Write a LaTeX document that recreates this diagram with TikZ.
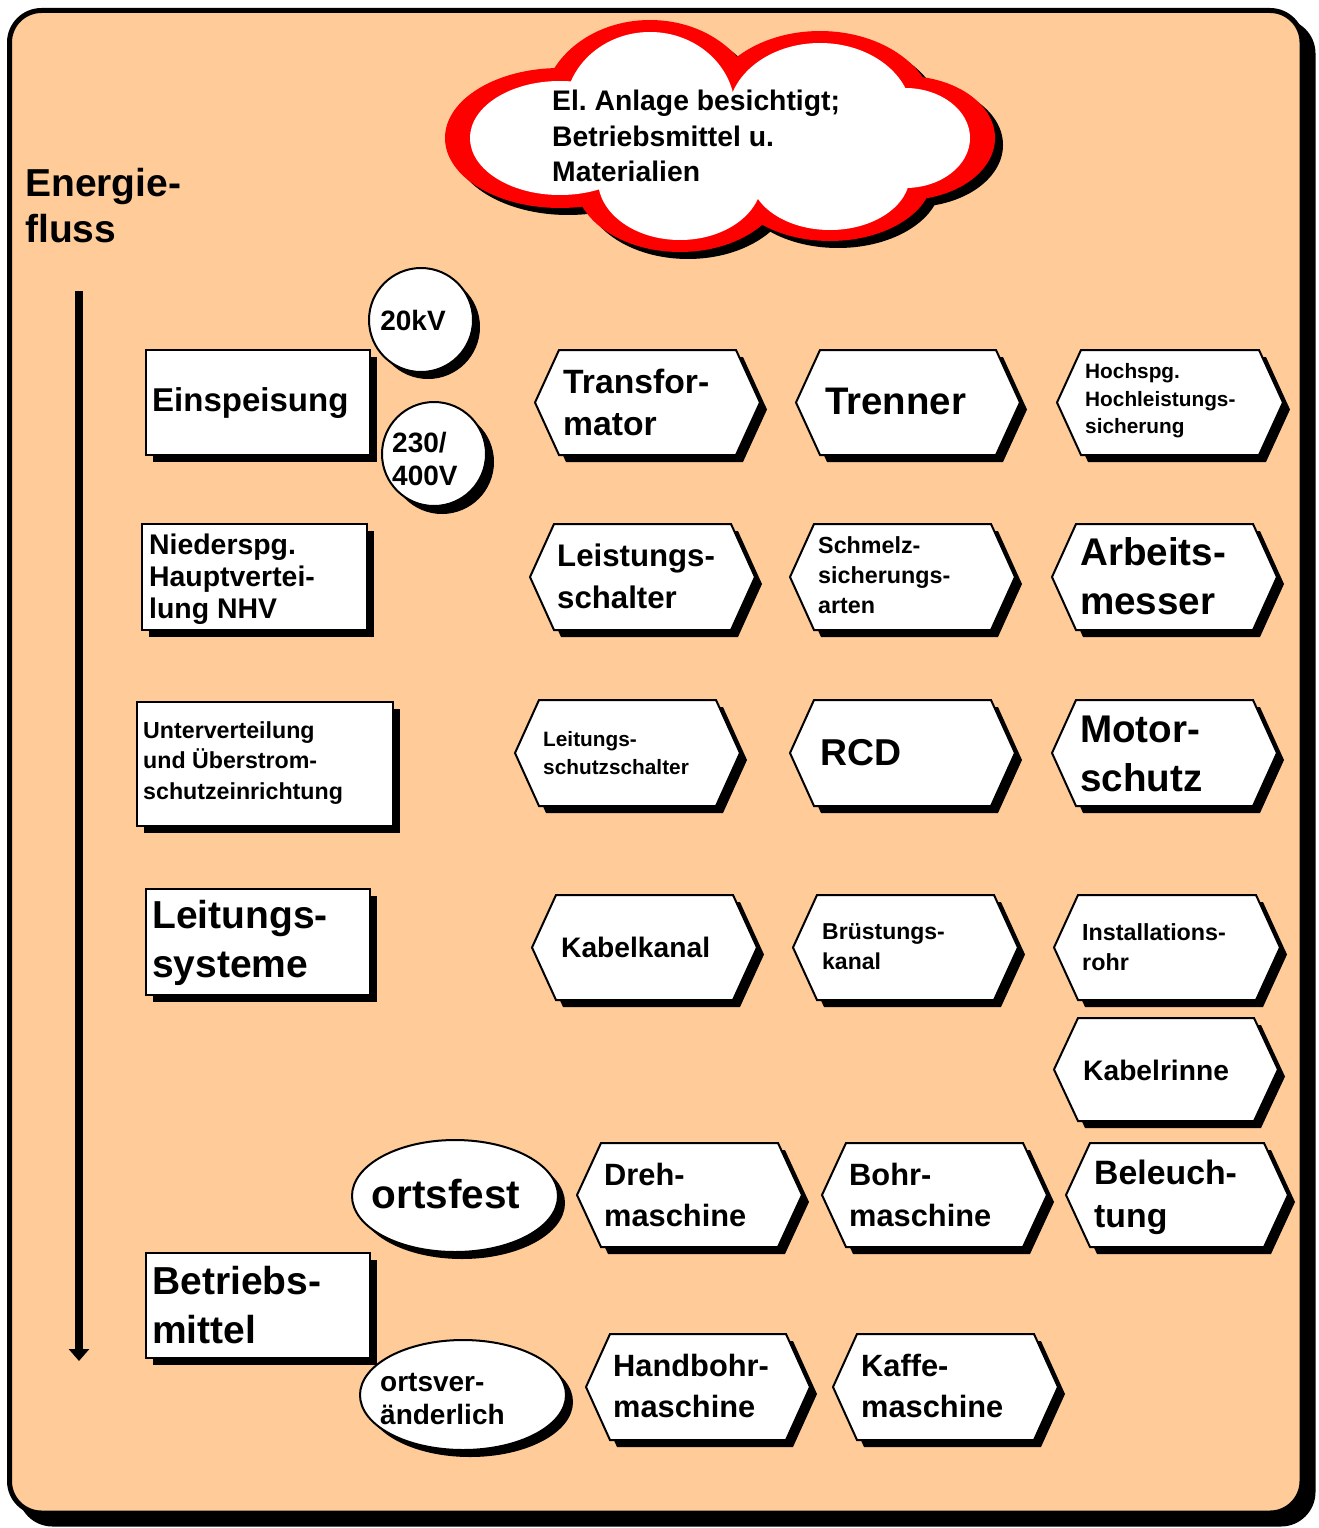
\documentclass[tikz,border=0pt]{standalone}
\usepackage{fontspec}
\setmainfont{Liberation Sans}
\usetikzlibrary{arrows.meta}
\definecolor{peach}{HTML}{FFCC99}
\frenchspacing
\newcommand\fs[2]{\fontsize{#1pt}{#2pt}\selectfont}
% rectangle with a drop shadow: x1 y1 x2 y2
\newcommand\shadowrect[4]{%
  \fill[black,shift={(7,7)}] (#1,#2) rectangle (#3,#4);
  \draw[outline] (#1,#2) rectangle (#3,#4);}
% pointed box (both ends) with a drop shadow: x1 x2 ytop ybot
\newcommand\hexshape[4]{%
  \pgfmathsetmacro\hm{(#3+#4)/2}%
  \pgfmathsetmacro\ha{#1+24}%
  \pgfmathsetmacro\hb{#2-24}%
  \fill[black,shift={(7,7)}] (#1,\hm) -- (\ha,#3) -- (\hb,#3) -- (#2,\hm) -- (\hb,#4) -- (\ha,#4) -- cycle;
  \draw[outline] (#1,\hm) -- (\ha,#3) -- (\hb,#3) -- (#2,\hm) -- (\hb,#4) -- (\ha,#4) -- cycle;}
\begin{document}
\begin{tikzpicture}[x=1pt,y=-1pt,
  outline/.style={draw=black,line width=2pt,fill=white,line join=miter},
  lbl/.style={inner sep=0pt,anchor=west,align=left},
  ctr/.style={inner sep=0pt,align=center}]
\useasboundingbox (0,0) rectangle (1318,1528);

% frame
\filldraw[black,line width=5pt,rounded corners=32pt] (20.5,21.5) rectangle (1313,1524);
\filldraw[fill=peach,draw=black,line width=5pt,rounded corners=32pt] (9.5,10.5) rectangle (1302,1513);

% cloud: shadow, red rim, white body
\begin{scope}[shift={(8,7)}]
  \fill[black] (560,138) ellipse[x radius=115pt,y radius=70pt];
  \fill[black] (650,110) ellipse[x radius=108pt,y radius=90pt];
  \fill[black] (820,115) ellipse[x radius=115pt,y radius=84pt];
  \fill[black] (905,138) ellipse[x radius=90pt,y radius=62pt];
  \fill[black] (830,175) ellipse[x radius=103pt,y radius=66pt];
  \fill[black] (680,180) ellipse[x radius=105pt,y radius=72pt];
\end{scope}
\fill[red] (560,138) ellipse[x radius=115pt,y radius=70pt];
\fill[red] (650,110) ellipse[x radius=108pt,y radius=90pt];
\fill[red] (820,115) ellipse[x radius=115pt,y radius=84pt];
\fill[red] (905,138) ellipse[x radius=90pt,y radius=62pt];
\fill[red] (830,175) ellipse[x radius=103pt,y radius=66pt];
\fill[red] (680,180) ellipse[x radius=105pt,y radius=72pt];
\fill[white] (560,138) ellipse[x radius=90pt,y radius=57pt];
\fill[white] (650,110) ellipse[x radius=85pt,y radius=78pt];
\fill[white] (820,115) ellipse[x radius=92pt,y radius=72pt];
\fill[white] (905,138) ellipse[x radius=65pt,y radius=50pt];
\fill[white] (830,175) ellipse[x radius=80pt,y radius=55pt];
\fill[white] (680,180) ellipse[x radius=82pt,y radius=60pt];
\node[lbl,font=\bfseries\fs{28.3}{35.5}] (cloudtext) at (552,136) {El. Anlage besichtigt;\\Betriebsmittel u.\\Materialien};

% energy flow
\node[lbl,font=\bfseries\fs{39}{46}] (flow) at (25,206) {Energie-\\fluss};
\coordinate (flowTop) at (79,291);
\coordinate (flowEnd) at (79,1361);
\draw[line width=8pt,-{Triangle[width=20pt,length=12pt]}] (flowTop) -- (flowEnd);

% left column
\shadowrect{146}{350}{370}{455}
\node[lbl,font=\bfseries\fs{33}{40}] (einsp) at (152,403) {Einspeisung};
\shadowrect{142}{524}{367}{630}
\node[lbl,font=\bfseries\fs{28.4}{32}] (nhv) at (149,579) {Niederspg.\\Hauptvertei-\\lung NHV};
\shadowrect{137}{702}{393}{826}
\node[lbl,font=\bfseries\fs{23.2}{30.5}] (uv) at (143,763) {Unterverteilung\\und Überstrom-\\schutzeinrichtung};
\shadowrect{146}{889}{370}{995}
\node[lbl,font=\bfseries\fs{39}{49}] (ltgsys) at (152,943) {Leitungs-\\systeme};
\shadowrect{146}{1253}{370}{1358}
\node[lbl,font=\bfseries\fs{39}{49}] (bm) at (152,1305) {Betriebs-\\mittel};

% voltage circles
\fill[black] (428,327) circle[radius=52pt];
\draw[outline] (421,320) circle[radius=52pt];
\node[ctr,font=\bfseries\fs{28}{33}] (kv) at (413,320) {20kV};
\fill[black] (442,462) circle[radius=52pt];
\draw[outline] (434,454) circle[radius=52pt];
\node[lbl,font=\bfseries\fs{28}{33}] (lv) at (392,459) {230/\\400V};

% mobility ellipses
\fill[black] (462,1203) ellipse[x radius=103pt,y radius=56pt];
\draw[outline] (455,1196) ellipse[x radius=103pt,y radius=56pt];
\node[ctr,font=\bfseries\fs{40.5}{46}] (fest) at (446,1194) {ortsfest};
\fill[black] (470,1402) ellipse[x radius=103pt,y radius=55pt];
\draw[outline] (463,1395) ellipse[x radius=103pt,y radius=55pt];
\node[lbl,font=\bfseries\fs{28}{33}] (mobil) at (380,1399) {ortsver-\\änderlich};

% row 1
\hexshape{535}{760}{350}{455}
\node[lbl,font=\bfseries\fs{33.7}{42}] (trafo) at (563,402) {Transfor-\\mator};
\hexshape{796}{1020}{350}{455}
\node[lbl,font=\bfseries\fs{38.4}{44}] (trenner) at (825,401) {Trenner};
\hexshape{1057}{1283}{350}{455}
\node[lbl,font=\bfseries\fs{20.8}{27.5}] (hh) at (1085,401) {Hochspg.\\Hochleistungs-\\sicherung};

% row 2
\hexshape{530}{755}{524}{630}
\node[lbl,font=\bfseries\fs{31.2}{42}] (ls) at (557,576) {Leistungs-\\schalter};
\hexshape{790}{1015}{524}{630}
\node[lbl,font=\bfseries\fs{23.3}{30}] (schm) at (818,575) {Schmelz-\\sicherungs-\\arten};
\hexshape{1052}{1277}{524}{630}
\node[lbl,font=\bfseries\fs{38.6}{49}] (am) at (1080,576) {Arbeits-\\messer};

% row 3
\hexshape{515}{740}{700}{806}
\node[lbl,font=\bfseries\fs{20.8}{28}] (lss) at (543,753) {Leitungs-\\schutzschalter};
\hexshape{790}{1015}{700}{806}
\node[lbl,font=\bfseries\fs{37.4}{44}] (rcd) at (820,753) {RCD};
\hexshape{1052}{1277}{700}{806}
\node[lbl,font=\bfseries\fs{38.6}{49}] (ms) at (1080,754) {Motor-\\schutz};

% row 4
\hexshape{532}{757}{895}{1000}
\node[lbl,font=\bfseries\fs{28.2}{34}] (kk) at (561,947) {Kabelkanal};
\hexshape{793}{1018}{895}{1000}
\node[lbl,font=\bfseries\fs{23}{30}] (bk) at (822,947) {Brüstungs-\\kanal};
\hexshape{1054}{1280}{895}{1000}
\node[lbl,font=\bfseries\fs{23.3}{30}] (ir) at (1082,947) {Installations-\\rohr};

% row 5
\hexshape{1054}{1278}{1018}{1121}
\node[lbl,font=\bfseries\fs{28.2}{34}] (kr) at (1083,1070) {Kabelrinne};

% row 6
\hexshape{577}{802}{1143}{1247}
\node[lbl,font=\bfseries\fs{30.8}{41}] (dm) at (604,1195) {Dreh-\\maschine};
\hexshape{822}{1047}{1143}{1247}
\node[lbl,font=\bfseries\fs{30.8}{41}] (bom) at (849,1195) {Bohr-\\maschine};
\hexshape{1066}{1288}{1143}{1247}
\node[lbl,font=\bfseries\fs{33.8}{43}] (bel) at (1094,1197) {Beleuch-\\tung};

% row 7
\hexshape{586}{810}{1334}{1440}
\node[lbl,font=\bfseries\fs{30.8}{41}] (hbm) at (613,1386) {Handbohr-\\maschine};
\hexshape{833}{1058}{1334}{1440}
\node[lbl,font=\bfseries\fs{30.8}{41}] (km) at (861,1386) {Kaffe-\\maschine};
\end{tikzpicture}
\end{document}
